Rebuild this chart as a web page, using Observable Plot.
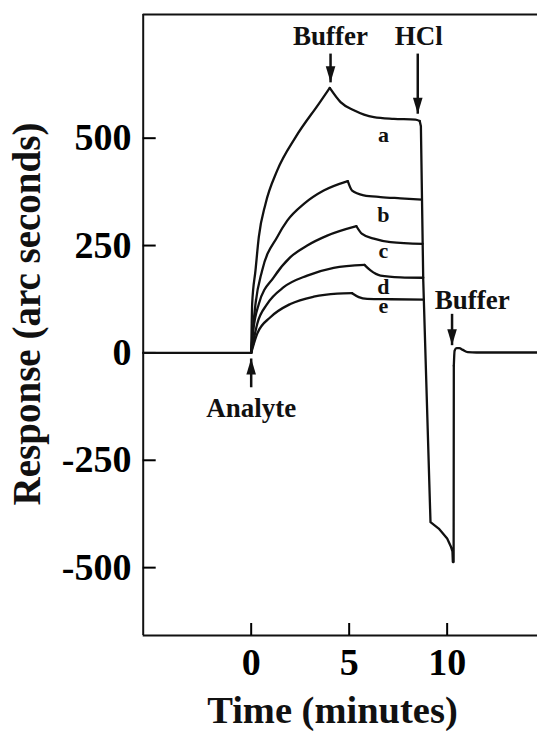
<!DOCTYPE html>
<html>
<head>
<meta charset="utf-8">
<script src="https://cdn.jsdelivr.net/npm/d3@7"></script>
<script src="https://cdn.jsdelivr.net/npm/@observablehq/plot@0.6"></script>
<style>
  html, body { margin: 0; padding: 0; background: #fff; }
  svg { display: block; }
</style>
</head>
<body>
<div id="chart"></div>
<script>
// Axis text and ticks
const xLabel = "Time (minutes)";
const yLabel = "Response (arc seconds)";
const xTicks = [0, 5, 10];
const yTicks = [-500, -250, 0, 250, 500];
const xDomain = [-5.51, 14.61];
const yDomain = [-658, 788];

// Sensorgram traces as [time (min), response (arc s)]
const baseline = [[-5.51, 0], [0, 0]];

const riseA = [[0, 0], [0.02, 50], [0.05, 114], [0.22, 192], [0.39, 270], [0.73, 347], [1.33, 425], [2.26, 502], [3.45, 580], [4.01, 617]];
const washA = [[4.01, 617], [4.56, 584], [5.24, 565], [6.26, 549], [7.28, 545], [8.38, 543], [8.6, 540]];
const regenA = [[8.6, 540], [8.66, 528], [8.78, 169], [9.15, -394], [9.57, -409], [10.0, -432], [10.2, -452], [10.27, -462], [10.29, -487], [10.33, -487], [10.34, -30]];
const recoverA = [[10.34, -30], [10.38, 5], [10.48, 11], [10.62, 11], [10.8, 7], [11.05, 2], [11.5, 1], [14.61, 1]];

const riseB = [[0, 0], [0.08, 50], [0.22, 114], [0.56, 192], [1.33, 270], [1.84, 308], [2.69, 347], [3.7, 378], [4.93, 400]];
const washB = [[4.93, 400], [5.15, 378], [5.75, 367], [6.6, 363], [7.62, 360], [8.71, 357]];

const riseC = [[0, 0], [0.1, 50], [0.39, 114], [1.15, 176], [2.0, 223], [2.86, 250], [3.88, 273], [5.37, 295]];
const washC = [[5.37, 295], [5.66, 277], [6.26, 266], [7.11, 258], [8.75, 254]];

const riseD = [[0, 0], [0.31, 68], [0.82, 114], [1.66, 153], [2.86, 180], [4.21, 198], [5.78, 205]];
const washD = [[5.78, 205], [6.09, 192], [6.6, 180], [7.62, 176], [8.78, 175]];

const riseE = [[0, 0], [0.31, 45], [0.98, 83], [2.0, 114], [3.19, 131], [4.39, 138], [5.15, 139]];
const washE = [[5.15, 139], [5.49, 130], [5.92, 126], [7.11, 125], [8.81, 124]];

// Curve letters
const curveNames = ["a", "b", "c", "d", "e"];
const curveNameTime = [6.75, 6.75, 6.75, 6.75, 6.75];
const curveNameResp = [491, 306, 222, 137, 92];

// Injection annotations: text, time, text baseline, arrow tail, arrow tip
const noteText = ["Buffer", "HCl", "Analyte", "Buffer"];
const noteTime = [4.05, 8.55, 0, 11.28];
const noteResp = [716, 716, -150, 103];
const arrowTime = [4.05, 8.5, 0, 10.25];
const arrowTail = [697, 697, -80, 91];
const arrowTip = [630, 557, -13, 18];

const smooth = [baseline, riseA, washA, recoverA, riseB, washB, riseC, washC, riseD, washD, riseE, washE];
const straight = [regenA];

const toRows = (parts) => parts.flatMap((p, i) => p.map(([t, r]) => ({t, r, seg: i})));

const notes = noteText.map((text, i) => ({text, t: noteTime[i], r: noteResp[i]}));
const arrows = arrowTime.map((t, i) => ({t, tail: arrowTail[i], tip: arrowTip[i], down: arrowTip[i] < arrowTail[i]}));
const names = curveNames.map((text, i) => ({text, t: curveNameTime[i], r: curveNameResp[i]}));

// Slender filled arrowheads with the tip at the origin
const headDown = {draw(ctx, size) { const k = Math.sqrt(size / Math.PI); ctx.moveTo(0, 0); ctx.lineTo(-0.3 * k, -k); ctx.lineTo(0.3 * k, -k); ctx.closePath(); }};
const headUp = {draw(ctx, size) { const k = Math.sqrt(size / Math.PI); ctx.moveTo(0, 0); ctx.lineTo(-0.3 * k, k); ctx.lineTo(0.3 * k, k); ctx.closePath(); }};

const font = "'Liberation Serif', 'Times New Roman', serif";

const chart = Plot.plot({
  width: 537,
  height: 731,
  marginLeft: 142.7,
  marginRight: 0,
  marginTop: 14,
  marginBottom: 96,
  style: {fontFamily: font, fontWeight: "bold", background: "#fff", color: "#000", overflow: "visible"},
  x: {domain: xDomain},
  y: {domain: yDomain},
  marks: [
    // frame: left, top and bottom edges
    Plot.ruleX([xDomain[0]], {stroke: "#111", strokeWidth: 2}),
    Plot.ruleY([yDomain[0], yDomain[1]], {stroke: "#111", strokeWidth: 2}),
    Plot.axisX(xTicks, {anchor: "bottom", tickSize: -12, tickPadding: 25, fontSize: 38, strokeWidth: 2, label: null, tickFormat: d => `${d}`}),
    Plot.axisY(yTicks, {anchor: "left", tickSize: -13, tickPadding: 24.7, fontSize: 38, strokeWidth: 2, label: null, tickFormat: d => `${d}`}),
    Plot.text([xLabel], {text: d => d, frameAnchor: "bottom", textAnchor: "middle", dx: -7.9, dy: 60, lineAnchor: "top", fontSize: 38.5, fill: "#111"}),
    Plot.text([yLabel], {text: d => d, frameAnchor: "left", textAnchor: "middle", rotate: -90, dx: -116.1, dy: -11, lineAnchor: "middle", fontSize: 39, fill: "#111"}),

    // traces
    Plot.line(toRows(smooth), {x: "t", y: "r", z: "seg", curve: "monotone-x", stroke: "#111", strokeWidth: 2.3}),
    Plot.line(toRows(straight), {x: "t", y: "r", z: "seg", curve: "linear", stroke: "#111", strokeWidth: 2.3, strokeLinejoin: "round"}),

    // injection arrows
    Plot.link(arrows, {x1: "t", x2: "t", y1: "tail", y2: "tip", stroke: "#111", strokeWidth: 2.5}),
    Plot.dot(arrows.filter(d => d.down), {x: "t", y: "tip", r: 16, symbol: headDown, fill: "#111", stroke: null}),
    Plot.dot(arrows.filter(d => !d.down), {x: "t", y: "tip", r: 16, symbol: headUp, fill: "#111", stroke: null}),
    Plot.text(notes, {x: "t", y: "r", text: "text", lineAnchor: "bottom", fontSize: 27, fill: "#111"}),

    // curve letters
    Plot.text(names, {x: "t", y: "r", text: "text", lineAnchor: "bottom", fontSize: 22, fill: "#111"})
  ]
});

document.getElementById("chart").append(chart);
</script>
</body>
</html>
